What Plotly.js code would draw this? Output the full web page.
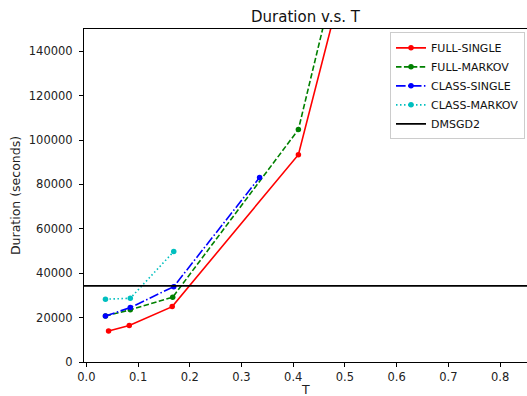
<!DOCTYPE html>
<html>
<head>
<meta charset="utf-8">
<script src="https://cdn.plot.ly/plotly-3.0.1.min.js"></script>
<style>
html,body{margin:0;padding:0;overflow:hidden;background:#fff;}
#chart{width:527px;height:396px;}
</style>
</head>
<body>
<div id="chart"></div>
<script>
// Data
var fullSingleT = [0.043, 0.083, 0.166, 0.410, 0.82];
var fullSingleDur = [14000, 16400, 24950, 93400, 465600];

var fullMarkovT = [0.037, 0.085, 0.167, 0.410, 0.82];
var fullMarkovDur = [20750, 23500, 29200, 104700, 500800];

var classSingleT = [0.037, 0.085, 0.169, 0.335];
var classSingleDur = [20750, 24500, 33950, 83150];

var classMarkovT = [0.037, 0.085, 0.169];
var classMarkovDur = [28300, 28700, 49750];

var dmsgd2Dur = 34300;

var xRange = [-0.0045, 0.852];
var yRange = [0, 150000];
var yTicks = [0, 20000, 40000, 60000, 80000, 100000, 120000, 140000];
var xTicks = [0.0, 0.1, 0.2, 0.3, 0.4, 0.5, 0.6, 0.7, 0.8];
var xTitle = 'T';

var FONT = "DejaVu Sans, sans-serif";

function series(name, x, y, color, dash) {
  return {
    type: 'scatter', mode: 'lines+markers', name: name,
    x: x, y: y,
    line: {color: color, width: 1.6, dash: dash},
    marker: {color: color, size: 5.5}
  };
}

var traces = [
  series('FULL-SINGLE', fullSingleT, fullSingleDur, '#ff0000', 'solid'),
  series('FULL-MARKOV', fullMarkovT, fullMarkovDur, '#008000', '5.5px,2.4px'),
  series('CLASS-SINGLE', classSingleT, classSingleDur, '#0000ff', '9.6px,2.4px,1.5px,2.4px'),
  series('CLASS-MARKOV', classMarkovT, classMarkovDur, '#00bfbf', '1.5px,2.5px'),
  {
    type: 'scatter', mode: 'lines', name: 'DMSGD2',
    x: xRange, y: [dmsgd2Dur, dmsgd2Dur],
    line: {color: '#000000', width: 1.6}
  }
];

var layout = {
  width: 527, height: 396,
  margin: {l: 84, r: 0, t: 29, b: 34, pad: 0},
  paper_bgcolor: '#ffffff', plot_bgcolor: '#ffffff',
  font: {family: FONT, size: 11.5, color: '#222222'},
  title: {text: 'Duration v.s. T', font: {family: FONT, size: 15, color: '#111111'},
          x: 0.5, xref: 'paper', y: 1, yref: 'paper', yanchor: 'bottom', pad: {b: 7}},
  showlegend: true,
  legend: {
    x: 0.9955, y: 0.99, xanchor: 'right', yanchor: 'top',
    bgcolor: 'rgba(255,255,255,0.85)', bordercolor: '#cccccc', borderwidth: 1,
    font: {family: FONT, size: 11, color: '#111111'},
    tracegroupgap: 0
  },
  annotations: [{
    text: xTitle, xref: 'paper', yref: 'paper', x: 0.5, y: -0.054,
    xanchor: 'center', yanchor: 'top', showarrow: false,
    font: {family: FONT, size: 12.5, color: '#222222'}
  }],
  xaxis: {
    range: xRange, tickvals: xTicks, tickformat: '.1f',
    showgrid: false, zeroline: false,
    showline: true, linecolor: '#000000', linewidth: 1, mirror: true,
    ticks: 'outside', ticklen: 4, tickwidth: 1, tickcolor: '#000000',
    tickfont: {family: FONT, size: 11.5, color: '#222222'}
  },
  yaxis: {
    range: yRange, tickvals: yTicks, tickformat: 'd',
    showgrid: false, zeroline: false,
    showline: true, linecolor: '#000000', linewidth: 1,
    ticks: 'outside', ticklen: 4, tickwidth: 1, tickcolor: '#000000',
    ticklabelstandoff: 4,
    tickfont: {family: FONT, size: 11.5, color: '#222222'},
    title: {text: 'Duration (seconds)', font: {family: FONT, size: 12.5, color: '#222222'}, standoff: 5}
  }
};

Plotly.newPlot('chart', traces, layout, {displayModeBar: false, staticPlot: true});
</script>
</body>
</html>
